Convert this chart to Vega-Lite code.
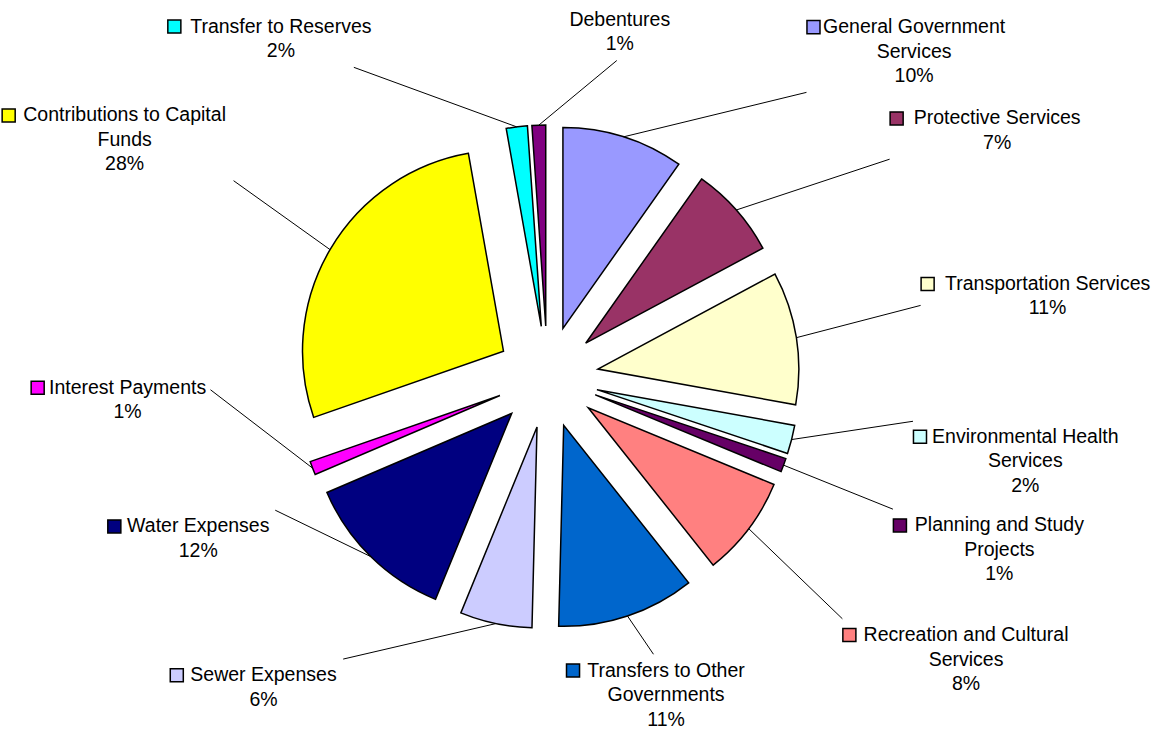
{
  "$schema": "https://vega.github.io/schema/vega-lite/v6.json",
  "width": 1095,
  "height": 714,
  "autosize": {"type": "none"},
  "padding": {"left": 0, "top": 20, "right": 62, "bottom": 0},
  "background": "white",
  "config": {"view": {"stroke": null}, "font": "Liberation Sans"},
  "data": {"values": [
    {"order": 1, "name": "General Government Services", "value": 9.8, "label": ["General Government", "Services", "10%"]},
    {"order": 2, "name": "Protective Services", "value": 7.4, "label": ["Protective Services", "7%"]},
    {"order": 3, "name": "Transportation Services", "value": 10.7, "label": ["Transportation Services", "11%"]},
    {"order": 4, "name": "Environmental Health Services", "value": 2.3, "label": ["Environmental Health", "Services", "2%"]},
    {"order": 5, "name": "Planning and Study Projects", "value": 1.1, "label": ["Planning and Study", "Projects", "1%"]},
    {"order": 6, "name": "Recreation and Cultural Services", "value": 8.1, "label": ["Recreation and Cultural", "Services", "8%"]},
    {"order": 7, "name": "Transfers to Other Governments", "value": 11.1, "label": ["Transfers to Other", "Governments", "11%"]},
    {"order": 8, "name": "Sewer Expenses", "value": 5.8, "label": ["Sewer Expenses", "6%"]},
    {"order": 9, "name": "Water Expenses", "value": 12.4, "label": ["Water Expenses", "12%"]},
    {"order": 10, "name": "Interest Payments", "value": 1.1, "label": ["Interest Payments", "1%"]},
    {"order": 11, "name": "Contributions to Capital Funds", "value": 27.6, "label": ["Contributions to Capital", "Funds", "28%"]},
    {"order": 12, "name": "Transfer to Reserves", "value": 1.7, "label": ["Transfer to Reserves", "2%"]},
    {"order": 13, "name": "Debentures", "value": 1.1, "label": ["Debentures", "1%"]}
  ]},
  "transform": [
    {"stack": "value", "groupby": [], "sort": [{"field": "order", "order": "ascending"}], "offset": "normalize", "as": ["v0", "v1"]}
  ],
  "layer": [
    {
      "mark": {
        "type": "arc",
        "radius": 201,
        "stroke": "black",
        "strokeWidth": 1.5,
        "xOffset": {"expr": "51*sin(PI*(datum.v0+datum.v1))"},
        "yOffset": {"expr": "-51*cos(PI*(datum.v0+datum.v1))"}
      },
      "encoding": {
        "theta": {"field": "v0", "type": "quantitative", "scale": {"domain": [0, 1]}, "stack": null},
        "theta2": {"field": "v1"},
        "color": {
          "field": "name",
          "type": "nominal",
          "legend": null,
          "scale": {
            "domain": ["General Government Services", "Protective Services", "Transportation Services", "Environmental Health Services", "Planning and Study Projects", "Recreation and Cultural Services", "Transfers to Other Governments", "Sewer Expenses", "Water Expenses", "Interest Payments", "Contributions to Capital Funds", "Transfer to Reserves", "Debentures"],
            "range": ["#9999FF", "#993366", "#FFFFCC", "#CCFFFF", "#660066", "#FF8080", "#0066CC", "#CCCCFF", "#000080", "#FF00FF", "#FFFF00", "#00FFFF", "#800080"]
          }
        }
      }
    },
    {
      "mark": {"type": "rule", "color": "black", "strokeWidth": 1},
      "encoding": {
        "x": {"value": {"expr": "width/2+252*sin(PI*(datum.v0+datum.v1))"}},
        "y": {"value": {"expr": "height/2-252*cos(PI*(datum.v0+datum.v1))"}},
        "x2": {"value": {"expr": "width/2+(sin(PI*(datum.v0+datum.v1+0.12*datum.order-0.06)/1.78+0.1396)>0?380:-(330-60*clamp(-2*cos(PI*(datum.v0+datum.v1+0.12*datum.order-0.06)/1.78+0.1396)-0.3,0,1)))*pow(abs(sin(PI*(datum.v0+datum.v1+0.12*datum.order-0.06)/1.78+0.1396)),0.4)+(clamp(3*sin(PI*(datum.v0+datum.v1+0.12*datum.order-0.06)/1.78+0.1396),-1,1)>0?-6:8)*clamp(3*sin(PI*(datum.v0+datum.v1+0.12*datum.order-0.06)/1.78+0.1396),-1,1)"}},
        "y2": {"value": {"expr": "height/2-(cos(PI*(datum.v0+datum.v1+0.12*datum.order-0.06)/1.78+0.1396)>0?345*pow(cos(PI*(datum.v0+datum.v1+0.12*datum.order-0.06)/1.78+0.1396),0.65):-min(360*pow(-cos(PI*(datum.v0+datum.v1+0.12*datum.order-0.06)/1.78+0.1396),1.3),318))+clamp(3*cos(PI*(datum.v0+datum.v1+0.12*datum.order-0.06)/1.78+0.1396),-1,1)*(length(datum.label)*12.25+4)"}}
      }
    },
    {
      "transform": [{"filter": "datum.name != 'Debentures'"}],
      "mark": {"type": "point", "shape": "square", "filled": true, "size": 170, "stroke": "black", "strokeWidth": 1.5, "opacity": 1},
      "encoding": {
        "x": {"value": {"expr": "width/2+(sin(PI*(datum.v0+datum.v1+0.12*datum.order-0.06)/1.78+0.1396)>0?380:-(330-60*clamp(-2*cos(PI*(datum.v0+datum.v1+0.12*datum.order-0.06)/1.78+0.1396)-0.3,0,1)))*pow(abs(sin(PI*(datum.v0+datum.v1+0.12*datum.order-0.06)/1.78+0.1396)),0.4)+clamp(3*sin(PI*(datum.v0+datum.v1+0.12*datum.order-0.06)/1.78+0.1396),-1,1)*((10.8*length(datum.label[0])-5.5*length(replace(datum.label[0],regexp('[^iltfjI ]','g'),''))-4.3*length(replace(datum.label[0],regexp('[^r]','g'),''))+4*length(replace(datum.label[0],regexp('[^A-HJ-Z]','g'),'')))/2+13)-(10.8*length(datum.label[0])-5.5*length(replace(datum.label[0],regexp('[^iltfjI ]','g'),''))-4.3*length(replace(datum.label[0],regexp('[^r]','g'),''))+4*length(replace(datum.label[0],regexp('[^A-HJ-Z]','g'),'')))/2-12"}},
        "y": {"value": {"expr": "height/2-(cos(PI*(datum.v0+datum.v1+0.12*datum.order-0.06)/1.78+0.1396)>0?345*pow(cos(PI*(datum.v0+datum.v1+0.12*datum.order-0.06)/1.78+0.1396),0.65):-min(360*pow(-cos(PI*(datum.v0+datum.v1+0.12*datum.order-0.06)/1.78+0.1396),1.3),318))-(length(datum.label)-1)*12.25"}},
        "color": {"field": "name", "type": "nominal", "legend": null}
      }
    },
    {
      "mark": {"type": "text", "font": "Liberation Sans", "fontSize": 19.5, "lineHeight": 24.5, "align": "center", "baseline": "middle", "color": "black"},
      "encoding": {
        "x": {"value": {"expr": "width/2+(sin(PI*(datum.v0+datum.v1+0.12*datum.order-0.06)/1.78+0.1396)>0?380:-(330-60*clamp(-2*cos(PI*(datum.v0+datum.v1+0.12*datum.order-0.06)/1.78+0.1396)-0.3,0,1)))*pow(abs(sin(PI*(datum.v0+datum.v1+0.12*datum.order-0.06)/1.78+0.1396)),0.4)+clamp(3*sin(PI*(datum.v0+datum.v1+0.12*datum.order-0.06)/1.78+0.1396),-1,1)*((10.8*length(datum.label[0])-5.5*length(replace(datum.label[0],regexp('[^iltfjI ]','g'),''))-4.3*length(replace(datum.label[0],regexp('[^r]','g'),''))+4*length(replace(datum.label[0],regexp('[^A-HJ-Z]','g'),'')))/2+13)"}},
        "y": {"value": {"expr": "height/2-(cos(PI*(datum.v0+datum.v1+0.12*datum.order-0.06)/1.78+0.1396)>0?345*pow(cos(PI*(datum.v0+datum.v1+0.12*datum.order-0.06)/1.78+0.1396),0.65):-min(360*pow(-cos(PI*(datum.v0+datum.v1+0.12*datum.order-0.06)/1.78+0.1396),1.3),318))-(length(datum.label)-1)*12.25"}},
        "text": {"field": "label", "type": "nominal"}
      }
    }
  ]
}
